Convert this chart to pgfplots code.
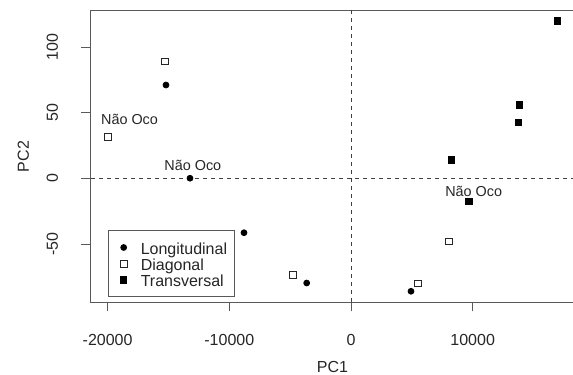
\documentclass[border=0pt]{standalone}
\usepackage{pgfplots}
\pgfplotsset{compat=1.18}
\usepackage{fontspec}
\setmainfont{Liberation Sans}
\begin{document}
\begin{tikzpicture}
\useasboundingbox (0,0) rectangle (429.75pt,280.5pt);
\begin{axis}[
  at={(67.5pt,53.775pt)}, anchor=south west,
  scale only axis, width=363.75pt, height=218.7pt,
  xmin=-21450, xmax=18410, ymin=-94.3, ymax=127.8,
  scaled ticks=false,
  xtick={-20000,-10000,0,10000}, xticklabels={-20000,-10000,0,10000},
  ytick={-50,0,50,100}, yticklabels={-50,0,50,100},
  xtick pos=bottom, ytick pos=left,
  tick align=outside, major tick length=6.75pt,
  axis line style={black!65, line width=0.75pt},
  every tick/.style={black!65, line width=0.75pt},
  tick label style={font=\fontsize{12}{12}\selectfont, text=black!85, inner sep=0pt},
  xticklabel style={anchor=north},
  yticklabel style={rotate=90, anchor=south},
  xticklabel shift=17pt, yticklabel shift=17pt,
  xlabel={PC1}, ylabel={PC2},
  label style={font=\fontsize{12}{12}\selectfont, text=black!85, inner sep=0pt},
  xlabel style={at={(axis description cs:0.5,-0.2202)}, anchor=center},
  ylabel style={at={(axis description cs:-0.1375,0.5)}, anchor=center, rotate=0},
  legend style={at={(0.0377,0.0182)}, anchor=south west, draw=black!65, line width=0.75pt,
    font=\fontsize{12}{12}\selectfont, text=black!85, inner xsep=5.8pt, inner ysep=6.375pt,
    row sep=0pt, nodes={inner sep=0pt, text height=11.1pt, text depth=1.05pt},
    /tikz/every odd column/.append style={column sep=9.45pt}},
  legend cell align=left,
  legend image code/.code={\path (-5pt,0pt) (3pt,0pt);
    \draw[#1, line width=0.75pt] plot coordinates {(0pt,0pt)};},
]
\addplot[forget plot, black!75, line width=0.75pt, dash pattern=on 3pt off 3pt] coordinates {(0,-100) (0,130)};
\addplot[forget plot, black!75, line width=0.75pt, dash pattern=on 3pt off 3pt] coordinates {(-22000,0) (19000,0)};
\addplot[only marks, mark=*, mark size=2.2pt, black, mark options={line width=0.6pt}] coordinates {
  (-15205,71.2) (-13233,0.2) (-8794,-41.3) (-3641,-79.6) (4931,-85.9)};
\addlegendentry{Longitudinal}
\addplot[only marks, mark=square, mark size=2.5pt, black!85, mark options={line width=0.75pt}] coordinates {
  (-15287,89.0) (-19997,31.8) (-4742,-73.7) (5482,-80.1) (8055,-48.1)};
\addlegendentry{Diagonal}
\addplot[only marks, mark=square*, mark size=2.4pt, black, mark options={line width=0.75pt}] coordinates {
  (16989,120.0) (13833,56.0) (13750,42.8) (8244,14.1) (9698,-17.7)};
\addlegendentry{Transversal}
\node[font=\fontsize{10.8}{10.8}\selectfont, text=black!85, inner sep=0pt] at (axis cs:-18200,45.3) {Não Oco};
\node[font=\fontsize{10.8}{10.8}\selectfont, text=black!85, inner sep=0pt] at (axis cs:-13000,10.3) {Não Oco};
\node[font=\fontsize{10.8}{10.8}\selectfont, text=black!85, inner sep=0pt] at (axis cs:10085,-9.7) {Não Oco};
\end{axis}
\end{tikzpicture}
\end{document}
